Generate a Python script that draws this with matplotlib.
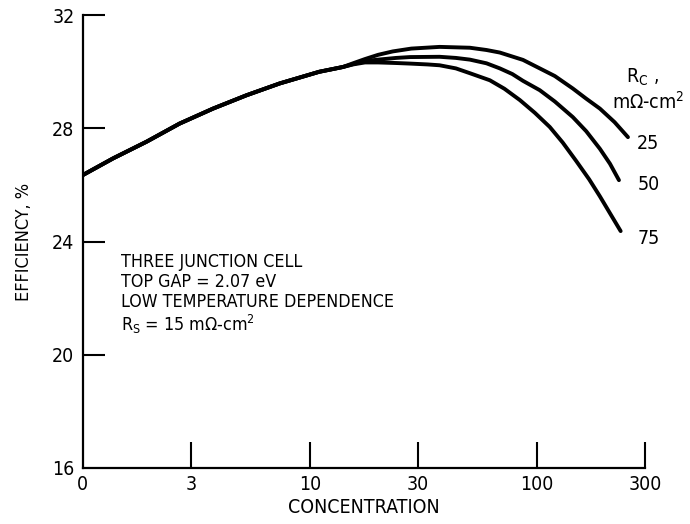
import matplotlib
matplotlib.use('Agg')
import matplotlib.pyplot as plt
import numpy as np

plt.rcParams['font.family'] = ['DejaVu Sans']
plt.rcParams['font.stretch'] = 'condensed'
plt.rcParams['mathtext.default'] = 'regular'

# shared part of the three curves (they coincide up to ~15 suns)
conc_common = [1, 1.36, 1.91, 2.67, 3.75, 5.26, 7.38, 11, 14]
eff_common = [26.35, 26.94, 27.53, 28.17, 28.70, 29.17, 29.59, 30.0, 30.17]

# branches for each contact resistance R_c (mOhm-cm2)
rc_labels = ['25', '50', '75']
conc_25 = [15.5, 17.5, 20, 23.2, 28, 37.3, 50.7, 60, 68.7, 86.9, 103, 120, 144, 165, 189.5, 220, 252]
eff_25 = [30.30, 30.45, 30.6, 30.72, 30.82, 30.88, 30.85, 30.77, 30.68, 30.42, 30.12, 29.85,
          29.41, 29.05, 28.7, 28.22, 27.69]
conc_50 = [15.5, 17.5, 20, 24, 27.6, 37.3, 44, 50.7, 60, 68.7, 78, 86.9, 103, 120, 144, 165,
           189.5, 210, 230]
eff_50 = [30.27, 30.38, 30.43, 30.49, 30.52, 30.53, 30.49, 30.43, 30.30, 30.12, 29.92, 29.68,
          29.35, 28.95, 28.4, 27.9, 27.28, 26.75, 26.17]
conc_75 = [15.5, 17.5, 20, 24, 27.6, 33, 37.3, 44, 50.7, 62.1, 72, 84.2, 98, 114, 130, 149, 170,
           189.5, 210, 234]
eff_75 = [30.26, 30.33, 30.33, 30.31, 30.29, 30.26, 30.23, 30.12, 29.95, 29.70, 29.4, 29.0,
          28.55, 28.05, 27.5, 26.85, 26.2, 25.6, 25.0, 24.37]

xticks = [1, 3, 10, 30, 100, 300]
xticklabels = ['0', '3', '10', '30', '100', '300']
yticks = [16, 20, 24, 28, 32]

fig = plt.figure(figsize=(6.9, 5.24), dpi=100)
ax = fig.add_axes([0.120, 0.107, 0.815, 0.864])

branches = [(conc_25, eff_25), (conc_50, eff_50), (conc_75, eff_75)]
for cx, ey in branches:
    x = np.concatenate([conc_common, cx])
    y = np.concatenate([eff_common, ey])
    ax.plot(x, y, color='black', lw=2.8, solid_capstyle='round', solid_joinstyle='round')

# curve labels at the right end
label_pos = [(1.004, 0.717), (1.007, 0.625), (1.007, 0.506)]
for (lx, ly), lab in zip(label_pos, rc_labels):
    ax.text(lx, ly, lab, transform=ax.transAxes, fontsize=14, ha='center', va='center',
            clip_on=False)

ax.set_xscale('log')
ax.set_xlim(1, 300)
ax.set_ylim(16, 32)
ax.set_xticks(xticks)
ax.set_xticklabels(xticklabels)
ax.minorticks_off()
ax.set_yticks(yticks)

for s in ['top', 'right']:
    ax.spines[s].set_visible(False)
for s in ['left', 'bottom']:
    ax.spines[s].set_linewidth(1.6)

ax.tick_params(axis='y', direction='in', length=16, width=1.5, labelsize=14, pad=6)
ax.tick_params(axis='x', direction='in', length=19, width=1.5, labelsize=14, pad=5)
ax.yaxis.get_major_ticks()[0].tick1line.set_visible(False)
ax.xaxis.get_major_ticks()[0].tick1line.set_visible(False)

ax.set_xlabel('CONCENTRATION', fontsize=14, labelpad=3)
ax.set_ylabel('EFFICIENCY, %', fontsize=13, labelpad=14)

notes = ['THREE JUNCTION CELL', 'TOP GAP = 2.07 eV', 'LOW TEMPERATURE DEPENDENCE',
         'R$_S$ = 15 m\u03a9-cm$^2$']
note_y = [0.455, 0.411, 0.367, 0.318]
for txt, ny in zip(notes, note_y):
    ax.text(0.068, ny, txt, transform=ax.transAxes, fontsize=12.8, va='center', ha='left')

ax.text(0.996, 0.862, 'R$_C$ ,', transform=ax.transAxes, fontsize=14,
        ha='center', va='center', clip_on=False)
ax.text(1.006, 0.808, 'm\u03a9-cm$^2$', transform=ax.transAxes, fontsize=14,
        ha='center', va='center', clip_on=False)

fig.savefig('out.png', dpi=100)
